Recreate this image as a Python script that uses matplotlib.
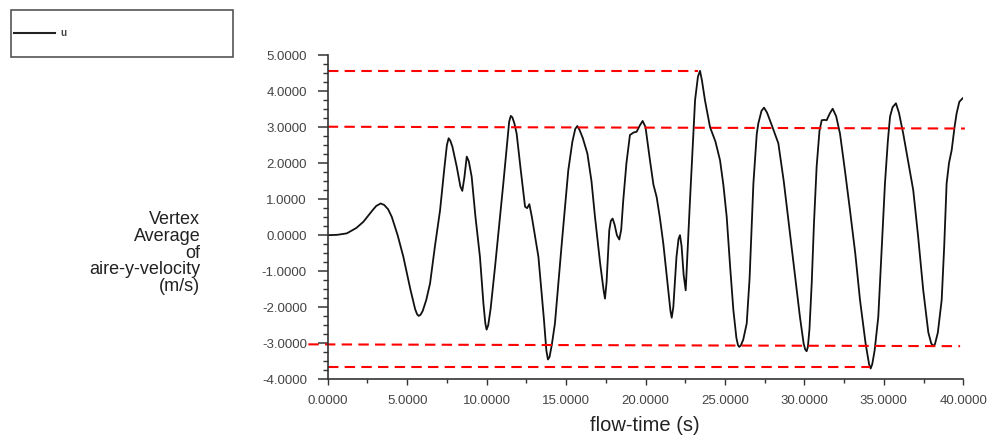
import matplotlib
matplotlib.use("Agg")
import matplotlib.pyplot as plt
from matplotlib.lines import Line2D
from matplotlib.patches import Rectangle
from matplotlib.ticker import MultipleLocator, FormatStrFormatter

plt.rcParams['font.family'] = ['Liberation Sans', 'DejaVu Sans']

# curve
flow_time = [0.0, 0.6, 1.2, 1.8, 2.24, 2.8, 3.05, 3.33, 3.55, 3.8, 4.03, 4.4, 4.76, 5.2, 5.5,
             5.62, 5.72, 5.84, 5.98, 6.2, 6.44, 6.75, 7.07, 7.35, 7.5, 7.61, 7.72, 7.85, 8.12,
             8.35, 8.47, 8.6, 8.75, 8.88, 9.06, 9.3, 9.58, 9.8, 9.92, 10.0, 10.1, 10.25, 10.53,
             11.05, 11.3, 11.42, 11.52, 11.62, 11.75, 11.89, 12.15, 12.42, 12.55, 12.69, 12.85,
             13.26, 13.6, 13.76, 13.86, 13.96, 14.1, 14.3, 14.73, 15.14, 15.4, 15.58, 15.71,
             15.85, 16.05, 16.34, 16.6, 16.82, 17.15, 17.37, 17.45, 17.55, 17.63, 17.72, 17.82,
             17.93, 18.05, 18.2, 18.35, 18.47, 18.6, 18.8, 19.02, 19.25, 19.44, 19.65, 19.82,
             20.0, 20.28, 20.5, 20.7, 20.9, 21.12, 21.4, 21.57, 21.65, 21.75, 21.95, 22.08,
             22.17, 22.27, 22.4, 22.53, 22.65, 22.8, 23.12, 23.3, 23.43, 23.55, 23.74, 24.06,
             24.4, 24.69, 24.9, 25.11, 25.33, 25.53, 25.72, 25.82, 25.9, 26.0, 26.15, 26.37,
             26.55, 26.79, 27.0, 27.1, 27.3, 27.46, 27.65, 27.94, 28.36, 28.7, 29.09, 29.4,
             29.72, 29.95, 30.05, 30.14, 30.22, 30.32, 30.46, 30.6, 30.77, 30.95, 31.09, 31.25,
             31.4, 31.6, 31.78, 32.0, 32.24, 32.55, 32.87, 33.2, 33.5, 33.85, 34.07, 34.17,
             34.27, 34.42, 34.65, 34.85, 35.07, 35.25, 35.39, 35.55, 35.76, 35.95, 36.22,
             36.55, 36.85, 37.15, 37.48, 37.8, 37.98, 38.11, 38.22, 38.4, 38.64, 38.8, 38.95,
             39.1, 39.27, 39.45, 39.58, 39.75, 39.96]
velocity = [0.0, 0.01, 0.05, 0.2, 0.37, 0.68, 0.81, 0.88, 0.84, 0.72, 0.51, 0.0, -0.6, -1.5,
            -2.05, -2.19, -2.24, -2.21, -2.1, -1.8, -1.34, -0.3, 0.69, 1.9, 2.5, 2.69, 2.62,
            2.45, 1.9, 1.35, 1.23, 1.6, 2.18, 2.05, 1.62, 0.5, -0.6, -1.9, -2.45, -2.62, -2.5,
            -2.05, -0.88, 1.43, 2.6, 3.15, 3.31, 3.27, 3.1, 2.82, 1.8, 0.79, 0.75, 0.86, 0.5,
            -0.6, -2.3, -3.2, -3.45, -3.38, -3.05, -2.45, -0.23, 1.8, 2.6, 2.95, 3.03, 2.92,
            2.7, 2.27, 1.5, 0.51, -0.8, -1.55, -1.76, -1.3, -0.6, 0.14, 0.4, 0.46, 0.3, 0.0,
            -0.12, 0.15, 0.97, 2.0, 2.78, 2.85, 2.87, 3.05, 3.17, 3.0, 2.08, 1.4, 1.06, 0.5,
            -0.23, -1.4, -2.1, -2.29, -2.0, -0.6, -0.1, 0.0, -0.3, -1.1, -1.53, -0.4, 0.97,
            3.75, 4.4, 4.56, 4.3, 3.75, 3.0, 2.6, 2.08, 1.4, 0.51, -0.9, -2.08, -2.85, -3.05,
            -3.1, -3.06, -2.9, -2.45, -1.2, 1.43, 2.8, 3.1, 3.45, 3.54, 3.4, 3.06, 2.55, 1.5,
            0.05, -1.1, -2.27, -3.0, -3.17, -3.22, -3.1, -2.6, -1.34, 0.3, 1.9, 2.9, 3.19, 3.2,
            3.19, 3.38, 3.51, 3.3, 2.82, 1.8, 0.69, -0.5, -1.8, -3.0, -3.58, -3.7, -3.58, -3.2,
            -2.27, -0.5, 1.43, 2.6, 3.29, 3.55, 3.66, 3.4, 2.82, 2.0, 1.25, 0.0, -1.53, -2.7,
            -3.0, -3.08, -3.02, -2.7, -1.8, -0.3, 1.43, 2.0, 2.36, 3.0, 3.38, 3.7, 3.8]

# red reference lines: (x start, x end, y start, y end)
ref_x0 = [0.0, 0.0, -1.22, 0.0]
ref_x1 = [23.3, 40.1, 39.8, 34.1]
ref_y0 = [4.56, 3.01, -3.03, -3.66]
ref_y1 = [4.56, 2.96, -3.08, -3.66]

fig = plt.figure(figsize=(9.94, 4.37), dpi=100)
ax = fig.add_axes([0.3297, 0.132, 0.6394, 0.7421])

ax.plot(flow_time, velocity, color='#111111', lw=1.3, solid_joinstyle='round')
for x0, x1, y0, y1 in zip(ref_x0, ref_x1, ref_y0, ref_y1):
    ax.plot([x0, x1], [y0, y1], color='red', lw=1.5, ls=(0, (5, 3)), clip_on=False)

ax.set_xlim(0, 40)
ax.set_ylim(-4, 5)
for s in ['top', 'right']:
    ax.spines[s].set_visible(False)
for s in ['left', 'bottom']:
    ax.spines[s].set_color('#333333')
    ax.spines[s].set_linewidth(1.2)

ax.xaxis.set_major_locator(MultipleLocator(5))
ax.xaxis.set_minor_locator(MultipleLocator(2.5))
ax.yaxis.set_major_locator(MultipleLocator(1))
ax.yaxis.set_minor_locator(MultipleLocator(0.25))
ax.xaxis.set_major_formatter(FormatStrFormatter('%.4f'))
ax.yaxis.set_major_formatter(FormatStrFormatter('%.4f'))
ax.tick_params(axis='y', which='major', length=7, width=1.1, color='#333333',
               pad=8, labelsize=9.5, labelcolor='#444444')
ax.tick_params(axis='y', which='minor', length=3.5, width=1.0, color='#333333')
ax.tick_params(axis='x', which='major', length=4, width=1.0, color='#333333',
               pad=7, labelsize=9.5, labelcolor='#444444')
ax.tick_params(axis='x', which='minor', length=3, width=1.0, color='#333333')

fig.text(0.649, 0.014, 'flow-time (s)', ha='center', va='baseline', fontsize=14.5,
         color='#222222')
fig.text(0.2015, 0.421, 'Vertex\nAverage\nof\naire-y-velocity\n(m/s)', ha='right',
         va='center', multialignment='right', fontsize=13, linespacing=0.98,
         color='#222222')

# legend box
fig.patches.append(Rectangle((11 / 994, 1 - 57 / 437), 222 / 994, 47 / 437,
                             transform=fig.transFigure, fill=False,
                             edgecolor='#555555', lw=1.2))
fig.lines.append(Line2D([14 / 994, 55 / 994], [1 - 33 / 437, 1 - 33 / 437],
                        transform=fig.transFigure, color='#222222', lw=1.5))
fig.text(60 / 994, 1 - 33 / 437, 'u', fontsize=7, fontweight='bold', va='center',
         color='#444444')

fig.savefig('out.png', dpi=100)
